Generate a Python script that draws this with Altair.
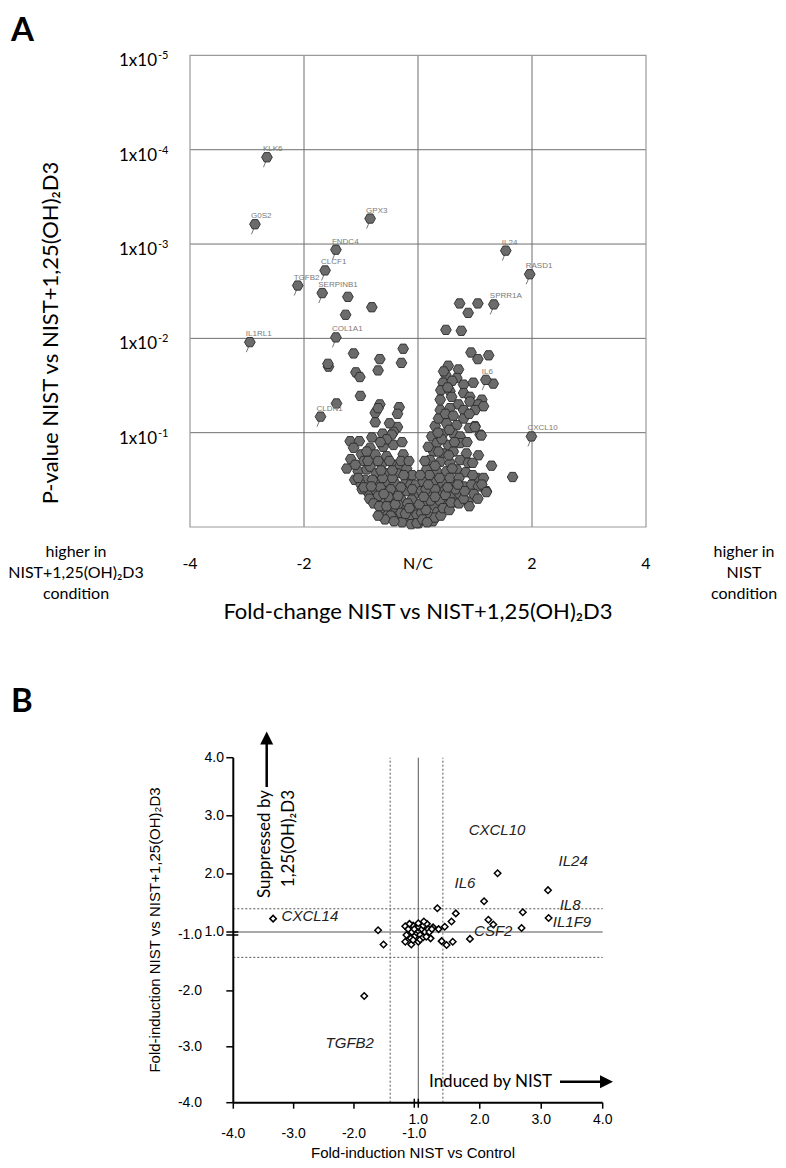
import altair as alt
import pandas as pd

# ---------------- Panel A : volcano plot ----------------
gene_names = ["KLK6", "G0S2", "GPX3", "FNDC4", "CLCF1", "TGFB2", "SERPINB1", "IL24",
              "RASD1", "SPRR1A", "IL1RL1", "COL1A1", "IL6", "CLDN1", "CXCL10"]
gene_fc = [-2.65, -2.86, -0.84, -1.44, -1.63, -2.11, -1.68, 1.54, 1.96, 1.33, -2.95, -1.44, 1.19, -1.71, 1.99]
gene_nlp = [3.92, 3.21, 3.27, 2.94, 2.72, 2.56, 2.48, 2.93, 2.68, 2.36, 1.96, 2.01, 1.56, 1.17, 0.96]

# (fold change, -log10 p)
left_arm = [(-0.67, 1.30), (-0.75, 1.21), (-0.75, 1.11), (-0.33, 1.27), (-0.36, 1.20), (-0.36, 1.06),
            (-0.43, 1.01), (-0.62, 0.99), (-0.81, 0.95), (-1.19, 0.91), (-1.03, 0.91), (-0.84, 0.84),
            (-0.61, 0.85), (-0.43, 0.87), (-0.99, 0.77), (-0.75, 0.77), (-0.55, 0.75), (-0.26, 0.77),
            (-1.25, 0.62), (-1.11, 0.50), (-1.05, 0.59), (-0.90, 0.61), (-0.84, 0.64), (-0.64, 0.66),
            (-0.43, 0.66), (-0.32, 0.64), (-0.20, 0.62), (-0.73, 0.57), (-0.55, 0.57), (-0.37, 0.57),
            (-0.20, 0.53), (-0.93, 0.50), (-0.75, 0.48), (-0.58, 0.48), (-0.40, 0.46), (-0.23, 0.46),
            (-0.87, 0.36), (-0.73, 0.38), (-0.55, 0.38), (-0.37, 0.36), (-0.20, 0.38), (-0.06, 0.35),
            (-0.81, 0.29), (-0.64, 0.27), (-0.46, 0.29), (-0.29, 0.29), (-0.11, 0.29), (-0.61, 0.20),
            (-0.43, 0.18), (-0.26, 0.20), (-0.08, 0.18), (-0.37, 0.11), (-0.20, 0.09), (-0.05, 0.07),
            (0.01, 0.04), (-0.70, 1.26), (-0.46, 0.98), (-0.55, 0.93), (-1.13, 0.84), (-0.95, 0.70),
            (-0.70, 0.70), (-0.50, 0.70), (-0.30, 0.70), (-1.00, 0.45), (-0.66, 0.42), (-0.48, 0.40),
            (-0.30, 0.42), (-0.13, 0.45), (-0.70, 0.33), (-0.52, 0.32), (-0.35, 0.24), (-0.18, 0.25),
            (-0.52, 0.14), (-0.30, 0.15), (-0.12, 0.12), (-0.28, 0.05), (-0.12, 0.03), (-0.90, 0.80),
            (-0.66, 0.90), (-0.50, 1.10), (-0.28, 0.90), (-0.16, 0.70), (-1.18, 0.72), (-0.10, 0.55),
            (-0.98, 0.40), (-0.45, 0.52), (-0.62, 0.52), (-0.80, 0.50),
            (-0.95, 0.42), (-0.85, 0.30), (-0.78, 0.25), (-0.68, 0.22), (-0.55, 0.22), (-0.48, 0.12),
            (-0.40, 0.24), (-0.22, 0.14), (-0.15, 0.20), (-0.02, 0.13), (-0.04, 0.45), (-0.10, 0.40),
            (-0.35, 0.33), (-0.60, 0.35), (-0.82, 0.43), (-1.05, 0.52), (-0.25, 0.55), (-0.45, 0.60),
            (-0.65, 0.60), (-0.88, 0.70), (-1.10, 0.66), (-0.58, 0.08), (-0.42, 0.06), (-0.70, 0.12)]
right_arm = [(0.53, 1.71), (0.49, 1.61), (0.71, 1.67), (0.68, 1.58), (0.44, 1.53), (0.80, 1.51),
             (0.97, 1.53), (0.40, 1.45), (0.56, 1.44), (0.80, 1.42), (0.91, 1.38), (1.12, 1.35),
             (0.39, 1.35), (0.59, 1.38), (0.71, 1.30), (0.91, 1.33), (1.06, 1.30), (1.15, 1.28),
             (0.39, 1.24), (0.56, 1.26), (0.80, 1.24), (1.00, 1.24), (0.30, 1.07), (0.50, 1.10),
             (0.68, 1.08), (0.80, 1.15), (1.00, 1.07), (1.09, 0.98), (0.24, 0.96), (0.44, 0.99),
             (0.62, 0.99), (0.74, 0.96), (0.33, 0.89), (0.53, 0.87), (0.74, 0.89), (0.27, 0.80),
             (0.44, 0.78), (0.62, 0.80), (0.85, 0.78), (1.06, 0.76), (0.21, 0.71), (0.39, 0.69),
             (0.56, 0.68), (0.74, 0.71), (0.88, 0.68), (0.15, 0.61), (0.33, 0.59), (0.50, 0.59),
             (0.68, 0.61), (1.03, 0.52), (1.15, 0.52), (0.09, 0.48), (0.27, 0.48), (0.44, 0.46),
             (0.62, 0.48), (0.80, 0.43), (0.94, 0.45), (1.06, 0.43), (1.20, 0.38), (0.06, 0.38),
             (0.21, 0.36), (0.39, 0.36), (0.56, 0.32), (0.74, 0.34), (0.88, 0.27), (0.12, 0.25),
             (0.30, 0.22), (0.47, 0.23), (0.06, 0.15), (0.21, 0.11), (-0.02, 0.04), (0.90, 0.22),
             (0.36, 1.15), (0.48, 1.20), (0.62, 1.18), (0.90, 1.20), (0.55, 1.03), (0.90, 1.05),
             (0.42, 0.93), (0.64, 0.90), (0.86, 0.90), (0.36, 0.80), (0.54, 0.76), (0.96, 0.68),
             (0.30, 0.65), (0.60, 0.62), (0.84, 0.58), (0.20, 0.55), (0.38, 0.52), (0.56, 0.52),
             (0.72, 0.52), (0.14, 0.40), (0.30, 0.40), (0.48, 0.40), (0.66, 0.40), (0.22, 0.28),
             (0.38, 0.28), (0.64, 0.26), (0.14, 0.18), (0.34, 0.16), (0.08, 0.08), (0.26, 0.06),
             (0.48, 0.34), (0.60, 1.55), (0.45, 1.65), (0.52, 1.48),
             (0.02, 0.24), (0.04, 0.55), (0.10, 0.32), (0.16, 0.05), (0.30, 0.10), (0.40, 0.12),
             (0.44, 0.20), (0.55, 0.18), (0.58, 0.26), (0.72, 0.25), (0.80, 0.30), (0.82, 0.38),
             (0.98, 0.35), (1.05, 0.30), (0.96, 0.55), (1.12, 0.45), (0.70, 0.45), (0.52, 0.42),
             (0.30, 0.32), (0.18, 0.45), (0.12, 0.70), (0.18, 0.85), (0.35, 1.00)]
sparse = [(-1.23, 2.44), (-0.81, 2.33), (-1.27, 2.25), (0.73, 2.37), (1.05, 2.37), (0.88, 2.27),
          (0.49, 2.09), (0.76, 2.08), (-1.13, 1.84), (-0.26, 1.89), (-0.67, 1.78), (-0.29, 1.74),
          (-1.57, 1.70), (-1.58, 1.73), (-0.70, 1.66), (-1.09, 1.64), (-1.02, 1.59), (-1.01, 1.39),
          (-1.43, 1.31), (0.93, 1.85), (1.24, 1.82), (1.05, 1.78), (1.32, 1.52), (1.66, 0.53),
          (1.29, 0.65), (1.11, 0.97), (1.00, 1.06), (1.20, 0.37)]

a_vgrid = [-2, 0, 2]
a_hgrid = [1, 2, 3, 4]
a_x_ticks = [-4, -2, 0, 2, 4]
a_x_labels = ["-4", "-2", "N/C", "2", "4"]
a_y_ticks = [5, 4, 3, 2, 1]
a_y_base = ["1x10", "1x10", "1x10", "1x10", "1x10"]
a_y_exp = ["-5", "-4", "-3", "-2", "-1"]

# ---------------- Panel B : fold induction ----------------
b_x = [-3.34, -1.60, -1.51, -1.83, 1.31, 2.07, 3.11, 2.70, 3.12, 2.68, 2.14, 2.22, 1.84, 1.61, 1.54,
       1.43, 1.33, 1.38, 1.46, 1.56, 1.20, 1.24, -1.15, -1.05, -1.15, 2.29,
       -1.10, -1.04, -1.02, -1.00, 1.00, 1.00, 1.03, 1.06, 1.08, 1.11, 1.14, 1.16, -1.06, -1.02,
       1.00, 1.03, 1.08, -1.13, -1.08, 1.18, 1.22, 1.00, 1.09, 1.13, -1.00]
b_y = [1.23, 1.03, -1.17, -2.09, 1.41, 1.53, 1.72, 1.34, 1.24, 1.07, 1.21, 1.13, -1.07, 1.32, 1.18,
       1.09, 1.05, -1.11, -1.18, -1.12, -1.06, 1.08, 1.10, -1.17, -1.12, 2.01,
       1.05, 1.00, 1.11, -1.03, 1.02, 1.08, -1.00, 1.05, 1.11, 1.00, 1.14, 1.05, -1.06, -1.09,
       -1.12, -1.08, -1.04, -1.00, 1.14, 1.00, 1.05, 1.15, 1.18, -1.03, 1.05]
b_genes = ["CXCL10", "IL24", "IL6", "IL8", "IL1F9", "CSF2", "CXCL14", "TGFB2"]
b_gene_x = [2.28, 3.52, 1.76, 3.47, 3.50, 2.22, -2.73, -2.07]
b_gene_y = [2.76, 2.22, 1.85, 1.46, 1.18, 1.01, 1.27, -2.94]
b_tick_vals = [-4, -3, -2, 2, 3, 4]
b_break_vals = [-1, 1]
b_pos_vals = [1, 2, 3, 4]
b_pos_labels = ["1.0", "2.0", "3.0", "4.0"]
b_neg_vals = [-1, -2, -3, -4]
b_neg_labels = ["-1.0", "-2.0", "-3.0", "-4.0"]
b_thresholds = [-1.4, 1.4]

CAL = "Lato"
ARIAL = "Liberation Sans"

# ---------------- scales ----------------
SA_X = alt.Scale(domain=[-4, 4], range=[182, 638], nice=False, zero=False)
SA_Y = alt.Scale(domain=[0, 5], range=[519, 47.4], nice=False, zero=False)
SB_X = alt.Scale(domain=[-4, -1, 1, 4], range=[225.3, 406.3, 410.3, 594.7], nice=False, zero=False)
SB_Y = alt.Scale(domain=[-4, -1, 1, 4], range=[1094.7, 927, 924, 749.7], nice=False, zero=False)


def ax(f):
    return alt.X(f, type="quantitative", scale=SA_X, axis=None)


def ay(f):
    return alt.Y(f, type="quantitative", scale=SA_Y, axis=None)


def axd(v):
    return alt.XDatum(datum=v, type="quantitative", scale=SA_X, axis=None)


def ayd(v):
    return alt.YDatum(datum=v, type="quantitative", scale=SA_Y, axis=None)


def bx(f):
    return alt.X(f, type="quantitative", scale=SB_X, axis=None)


def by(f):
    return alt.Y(f, type="quantitative", scale=SB_Y, axis=None)


def bxd(v):
    return alt.XDatum(datum=v, type="quantitative", scale=SB_X, axis=None)


def byd(v):
    return alt.YDatum(datum=v, type="quantitative", scale=SB_Y, axis=None)


one = pd.DataFrame({"d": [0]})


def txt(t):
    return pd.DataFrame({"t": [t]})


# ---------------- Panel A layers ----------------
cloud_df = pd.DataFrame(left_arm + right_arm + sparse, columns=["fc", "nlp"])
genes_df = pd.DataFrame({"gene": gene_names, "fc": gene_fc, "nlp": gene_nlp})
HEX = "M-1,0L-0.5,-0.866L0.5,-0.866L1,0L0.5,0.866L-0.5,0.866Z"

a_vg = alt.Chart(pd.DataFrame({"g": a_vgrid})).mark_rule(color="#6e6e6e", strokeWidth=1).encode(
    x=ax("g"), y=ayd(0), y2=alt.Y2Datum(datum=5))
a_hg = alt.Chart(pd.DataFrame({"g": a_hgrid})).mark_rule(color="#6e6e6e", strokeWidth=1).encode(
    y=ay("g"), x=axd(-4), x2=alt.X2Datum(datum=4))
a_frame = alt.Chart(one).mark_rect(fillOpacity=0, stroke="#9a9a9a", strokeWidth=1.2).encode(
    x=axd(-4), x2=alt.X2Datum(datum=4), y=ayd(0), y2=alt.Y2Datum(datum=5))
a_leaders = alt.Chart(genes_df).mark_rule(
    color="#777777", strokeWidth=1, xOffset=-1, yOffset=4, x2Offset=-3.5, y2Offset=10).encode(
    x=ax("fc"), y=ay("nlp"), x2=alt.X2("fc"), y2=alt.Y2("nlp"))
hex_style = dict(shape=HEX, size=115, filled=True, fill="#6b6b6b", stroke="#2b2b2b",
                 strokeWidth=0.9, opacity=1)
a_cloud = alt.Chart(cloud_df).mark_point(**hex_style).encode(x=ax("fc"), y=ay("nlp"))
a_genes = alt.Chart(genes_df).mark_point(**hex_style).encode(x=ax("fc"), y=ay("nlp"))
a_glab = alt.Chart(genes_df).mark_text(
    font=ARIAL, fontSize=8, color="#7a7a7a", align="left", baseline="alphabetic", dx=-4, dy=-6).encode(
    x=ax("fc"), y=ay("nlp"), text="gene:N")
a_ybase = alt.Chart(pd.DataFrame({"v": a_y_ticks, "b": a_y_base})).mark_text(
    font=CAL, fontSize=17, align="right", baseline="middle", dy=6, color="black").encode(
    x=alt.value(149), y=ay("v"), text="b:N")
a_yexp = alt.Chart(pd.DataFrame({"v": a_y_ticks, "e": a_y_exp})).mark_text(
    font=CAL, fontSize=11, align="left", baseline="middle", dy=1, color="black").encode(
    x=alt.value(150), y=ay("v"), text="e:N")
a_xlab = alt.Chart(pd.DataFrame({"v": a_x_ticks, "t": a_x_labels})).mark_text(
    font=CAL, fontSize=16, align="center", baseline="middle", color="black").encode(
    x=ax("v"), y=alt.value(556), text="t:N")
a_xtitle = alt.Chart(txt("Fold-change NIST vs NIST+1,25(OH)₂D3")).mark_text(
    font=CAL, fontSize=22, align="center", baseline="middle", color="black").encode(
    x=alt.value(410), y=alt.value(604), text="t:N")
a_ytitle = alt.Chart(txt("P-value NIST vs NIST+1,25(OH)₂D3")).mark_text(
    font=CAL, fontSize=22, align="center", baseline="middle", angle=270, color="black").encode(
    x=alt.value(43), y=alt.value(325), text="t:N")
a_left = alt.Chart(txt("higher in\nNIST+1,25(OH)₂D3\ncondition")).mark_text(
    font=CAL, fontSize=16, align="center", baseline="middle", lineBreak="\n", lineHeight=21,
    color="black").encode(x=alt.value(68), y=alt.value(544), text="t:N")
a_right = alt.Chart(txt("higher in\nNIST\ncondition")).mark_text(
    font=CAL, fontSize=16, align="center", baseline="middle", lineBreak="\n", lineHeight=21,
    color="black").encode(x=alt.value(736), y=alt.value(544), text="t:N")
a_letter = alt.Chart(txt("A")).mark_text(
    font=CAL, fontSize=33, fontWeight="bold", align="left", baseline="alphabetic", color="black").encode(
    x=alt.value(3), y=alt.value(33), text="t:N")

panelA = alt.layer(a_vg, a_hg, a_frame, a_leaders, a_cloud, a_genes, a_glab, a_ybase, a_yexp,
                   a_xlab, a_xtitle, a_ytitle, a_left, a_right, a_letter)

# ---------------- Panel B layers ----------------
b_pts_df = pd.DataFrame({"x": b_x, "y": b_y})
b_lab_df = pd.DataFrame({"g": b_genes, "x": b_gene_x, "y": b_gene_y})

b_hline = alt.Chart(one).mark_rule(color="#555555", strokeWidth=1).encode(
    y=byd(1), x=bxd(-4), x2=alt.X2Datum(datum=4))
b_vline = alt.Chart(one).mark_rule(color="#555555", strokeWidth=1).encode(
    x=bxd(1), y=byd(-4), y2=alt.Y2Datum(datum=4))
b_hthr = alt.Chart(pd.DataFrame({"v": b_thresholds})).mark_rule(
    color="#555555", strokeWidth=1, strokeDash=[2, 2]).encode(
    y=by("v"), x=bxd(-4), x2=alt.X2Datum(datum=4))
b_vthr = alt.Chart(pd.DataFrame({"v": b_thresholds})).mark_rule(
    color="#555555", strokeWidth=1, strokeDash=[2, 2]).encode(
    x=bx("v"), y=byd(-4), y2=alt.Y2Datum(datum=4))
b_yaxis = alt.Chart(one).mark_rule(color="black", strokeWidth=2).encode(
    x=bxd(-4), y=byd(-4), y2=alt.Y2Datum(datum=4))
b_xaxis = alt.Chart(one).mark_rule(color="black", strokeWidth=2).encode(
    y=byd(-4), x=bxd(-4), x2=alt.X2Datum(datum=4))
b_yticks = alt.Chart(pd.DataFrame({"v": b_tick_vals})).mark_rule(
    color="black", strokeWidth=1.5, xOffset=-7, x2Offset=0).encode(
    y=by("v"), x=bxd(-4), x2=alt.X2Datum(datum=-4))
b_ybreak = alt.Chart(pd.DataFrame({"v": b_break_vals})).mark_rule(
    color="black", strokeWidth=1.5, xOffset=-7, x2Offset=5).encode(
    y=by("v"), x=bxd(-4), x2=alt.X2Datum(datum=-4))
b_xticks = alt.Chart(pd.DataFrame({"v": b_tick_vals})).mark_rule(
    color="black", strokeWidth=1.5, yOffset=0, y2Offset=6).encode(
    x=bx("v"), y=byd(-4), y2=alt.Y2Datum(datum=-4))
b_xbreak = alt.Chart(pd.DataFrame({"v": b_break_vals})).mark_rule(
    color="black", strokeWidth=1.5, yOffset=-4, y2Offset=5).encode(
    x=bx("v"), y=byd(-4), y2=alt.Y2Datum(datum=-4))
b_points = alt.Chart(b_pts_df).mark_point(
    shape="diamond", size=42, filled=True, fill="white", stroke="black", strokeWidth=1.5,
    opacity=1).encode(x=bx("x"), y=by("y"))
b_labels = alt.Chart(b_lab_df).mark_text(
    font=ARIAL, fontStyle="italic", fontSize=15, align="center", baseline="middle",
    color="#222222").encode(x=bx("x"), y=by("y"), text="g:N")
b_ypos = alt.Chart(pd.DataFrame({"v": b_pos_vals, "t": b_pos_labels})).mark_text(
    font=ARIAL, fontSize=14, align="right", baseline="middle", color="black").encode(
    x=alt.value(216), y=by("v"), text="t:N")
b_yneg = alt.Chart(pd.DataFrame({"v": b_neg_vals, "t": b_neg_labels})).mark_text(
    font=ARIAL, fontSize=14, align="right", baseline="middle", color="black").encode(
    x=alt.value(194), y=by("v"), text="t:N")
b_xpos = alt.Chart(pd.DataFrame({"v": b_pos_vals, "t": b_pos_labels})).mark_text(
    font=ARIAL, fontSize=14, align="center", baseline="middle", color="black").encode(
    x=bx("v"), y=alt.value(1112), text="t:N")
b_xneg = alt.Chart(pd.DataFrame({"v": b_neg_vals, "t": b_neg_labels})).mark_text(
    font=ARIAL, fontSize=14, align="center", baseline="middle", color="black").encode(
    x=bx("v"), y=alt.value(1126), text="t:N")
b_xtitle = alt.Chart(txt("Fold-induction NIST vs Control")).mark_text(
    font=ARIAL, fontSize=15, align="center", baseline="middle", color="black").encode(
    x=alt.value(405), y=alt.value(1145), text="t:N")
b_ytitle = alt.Chart(txt("Fold-induction NIST vs NIST+1,25(OH)₂D3")).mark_text(
    font=ARIAL, fontSize=15, align="center", baseline="middle", angle=270, color="black").encode(
    x=alt.value(147), y=alt.value(922), text="t:N")
b_supp = alt.Chart(txt("Suppressed by\n1,25(OH)₂D3")).mark_text(
    font=CAL, fontSize=17, align="right", baseline="middle", angle=270, lineBreak="\n",
    lineHeight=24, color="black").encode(x=alt.value(257), y=alt.value(782), text="t:N")
b_uparrow = alt.Chart(one).mark_rule(color="black", strokeWidth=2.5).encode(
    x=alt.value(258.7), y=alt.value(736), y2=alt.value(779))
b_uphead = alt.Chart(one).mark_point(
    shape="M0,-1L1,1L-1,1Z", size=169, filled=True, fill="black", opacity=1).encode(
    x=alt.value(258.7), y=alt.value(730))
b_induced = alt.Chart(txt("Induced by NIST")).mark_text(
    font=CAL, fontSize=17, align="left", baseline="middle", color="black").encode(
    x=alt.value(421), y=alt.value(1073.7), text="t:N")
b_rarrow = alt.Chart(one).mark_rule(color="black", strokeWidth=2.5).encode(
    x=alt.value(552), x2=alt.value(593), y=alt.value(1073.7))
b_rhead = alt.Chart(one).mark_point(
    shape="M1,0L-1,-1L-1,1Z", size=169, filled=True, fill="black", opacity=1).encode(
    x=alt.value(598.5), y=alt.value(1073.7))
b_letter = alt.Chart(txt("B")).mark_text(
    font=CAL, fontSize=33, fontWeight="bold", align="left", baseline="alphabetic", color="black").encode(
    x=alt.value(3), y=alt.value(704), text="t:N")

panelB = alt.layer(b_hline, b_vline, b_hthr, b_vthr, b_yaxis, b_xaxis, b_yticks, b_ybreak, b_xticks,
                   b_xbreak, b_points, b_labels, b_ypos, b_yneg, b_xpos, b_xneg, b_xtitle, b_ytitle,
                   b_supp, b_uparrow, b_uphead, b_induced, b_rarrow, b_rhead, b_letter)

chart = alt.layer(panelA, panelB).resolve_scale(
    x="independent", y="independent"
).properties(
    width=770, height=1152, padding=0,
    autosize=alt.AutoSizeParams(type="none"),
    background="white",
).configure_view(stroke=None)

chart.save("out.html", embed_options={"renderer": "svg", "actions": False})
